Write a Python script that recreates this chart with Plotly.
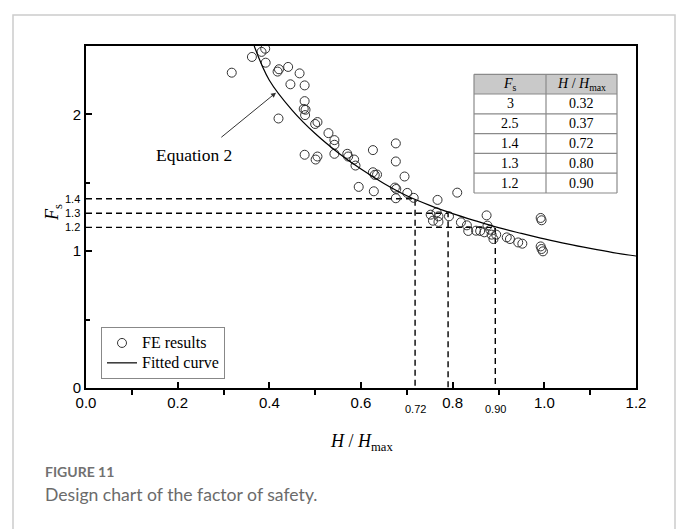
import plotly.graph_objects as go

# ---------------- data ----------------
fe_h = [0.318, 0.362, 0.383, 0.391, 0.392, 0.418, 0.421, 0.441, 0.466, 0.446,
        0.477, 0.477, 0.475, 0.479, 0.478, 0.420, 0.500, 0.505, 0.529, 0.542,
        0.542, 0.542, 0.477, 0.501, 0.505, 0.570, 0.572, 0.585, 0.588, 0.626,
        0.676, 0.676, 0.626, 0.630, 0.635, 0.695, 0.595, 0.628, 0.674, 0.677,
        0.676, 0.701, 0.715, 0.767, 0.810, 0.752, 0.765, 0.769, 0.757, 0.769,
        0.792, 0.818, 0.831, 0.834, 0.851, 0.860, 0.869, 0.874, 0.876, 0.882,
        0.885, 0.889, 0.895, 0.918, 0.925, 0.943, 0.952, 0.992, 0.994, 0.992,
        0.994, 0.997]
fe_fs = [2.305, 2.420, 2.457, 2.480, 2.378, 2.313, 2.330, 2.347, 2.300, 2.220,
         2.212, 2.097, 2.040, 2.034, 1.995, 1.970, 1.930, 1.944, 1.863, 1.812,
         1.778, 1.712, 1.705, 1.670, 1.692, 1.712, 1.692, 1.670, 1.626, 1.739,
         1.788, 1.656, 1.577, 1.558, 1.560, 1.546, 1.470, 1.438, 1.465, 1.455,
         1.387, 1.426, 1.390, 1.375, 1.428, 1.267, 1.284, 1.255, 1.223, 1.214,
         1.255, 1.211, 1.189, 1.148, 1.150, 1.148, 1.138, 1.262, 1.187, 1.157,
         1.121, 1.089, 1.121, 1.101, 1.089, 1.064, 1.055, 1.243, 1.226, 1.035,
         1.016, 0.999]

curve_h = [0.367, 0.40, 0.45, 0.50, 0.55, 0.60, 0.65, 0.70, 0.75, 0.80,
           0.85, 0.90, 0.95, 1.00, 1.05, 1.10, 1.15, 1.20]
curve_fs = [2.50, 2.25, 2.03, 1.86, 1.72, 1.60, 1.495, 1.405, 1.335, 1.275,
            1.222, 1.172, 1.13, 1.09, 1.053, 1.02, 0.99, 0.965]

guide_h = [0.718, 0.790, 0.893]
guide_fs = [1.383, 1.277, 1.174]
guide_h_labels = ["0.72", "", "0.90"]
guide_fs_labels = ["1.4", "1.3", "1.2"]

table_header = ["<i>F</i><sub>s</sub>", "<i>H</i> / <i>H</i><sub>max</sub>"]
table_fs = ["3", "2.5", "1.4", "1.3", "1.2"]
table_h = ["0.32", "0.37", "0.72", "0.80", "0.90"]

x_ticks = [0.0, 0.2, 0.4, 0.6, 0.8, 1.0, 1.2]
y_ticks = [0, 1, 2]

arrow_tip = (0.4146, 2.159)
arrow_tail = (0.292, 1.824)

series_names = ["FE results", "Fitted curve"]

# ---------------- figure ----------------
SERIF = "Liberation Serif"
SANS = "Liberation Sans"
W, H = 677, 529
ML, MR, MT, MB = 86, 41, 46, 141
PW, PH = W - ML - MR, H - MT - MB


def px(xp):
    return (xp - ML) / PW


def py(yp):
    return (H - MB - yp) / PH


def big(name):
    return f'<span style="font-size:16px">{name}</span>'


fig = go.Figure()

# dashed guide lines
for gh, gf in zip(guide_h, guide_fs):
    fig.add_trace(go.Scatter(x=[0, gh, gh], y=[gf, gf, 0], mode="lines",
                             line=dict(color="black", width=1.4, dash="6px,4px"),
                             showlegend=False, hoverinfo="skip"))

fig.add_trace(go.Scatter(x=fe_h, y=fe_fs, mode="markers", name=big(series_names[0]),
                         marker=dict(symbol="circle-open", size=9, color="#333333",
                                     line=dict(width=1, color="#333333"))))
fig.add_trace(go.Scatter(x=curve_h, y=curve_fs, mode="lines", name=big(series_names[1]),
                         line=dict(color="black", width=1.2, shape="spline")))

annotations = []
shapes = []

# ---- table drawn with shapes + annotations ----
T_LEFT, T_MID, T_RIGHT = 474, 546, 617
T_TOP, HEAD_H, ROW_H = 74.3, 19.7, 19.8
col_x = [T_LEFT, T_MID, T_RIGHT]
rows = [table_header] + [[a, b] for a, b in zip(table_fs, table_h)]
y_edges = [T_TOP, T_TOP + HEAD_H] + [T_TOP + HEAD_H + ROW_H * (i + 1) for i in range(len(table_fs))]
T_BOTTOM = y_edges[-1]
shapes.append(dict(type="rect", xref="paper", yref="paper", x0=px(T_LEFT), x1=px(T_RIGHT),
                   y0=py(y_edges[1]), y1=py(T_TOP), fillcolor="#c9c9c9", line=dict(width=0), layer="above"))
shapes.append(dict(type="rect", xref="paper", yref="paper", x0=px(T_LEFT), x1=px(T_RIGHT),
                   y0=py(y_edges[-1]), y1=py(y_edges[1]), fillcolor="white", line=dict(width=0), layer="above"))
for ye in y_edges:
    shapes.append(dict(type="line", xref="paper", yref="paper", x0=px(T_LEFT), x1=px(T_RIGHT),
                       y0=py(ye), y1=py(ye), line=dict(color="#8a8a8a", width=1.2), layer="above"))
for xe in col_x:
    shapes.append(dict(type="line", xref="paper", yref="paper", x0=px(xe), x1=px(xe),
                       y0=py(T_BOTTOM), y1=py(T_TOP), line=dict(color="#8a8a8a", width=1.2), layer="above"))
for r, row in enumerate(rows):
    yc = (y_edges[r] + y_edges[r + 1]) / 2
    for c, val in enumerate(row):
        xc = (col_x[c] + col_x[c + 1]) / 2
        annotations.append(dict(x=px(xc), y=py(yc), xref="paper", yref="paper", text=val,
                                xanchor="center", yanchor="middle", showarrow=False,
                                font=dict(family=SERIF, size=14, color="black")))

# small guide labels
for gh, lab in zip(guide_h, guide_h_labels):
    if lab:
        annotations.append(dict(x=gh, y=0, xref="x", yref="y", text=lab, showarrow=False,
                                xanchor="center", yanchor="middle", yshift=-21,
                                font=dict(family=SANS, size=11, color="black")))
for gf, lab in zip(guide_fs, guide_fs_labels):
    annotations.append(dict(x=0, y=gf, xref="x", yref="y", text=lab, showarrow=False,
                            xanchor="right", yanchor="middle", xshift=-4,
                            font=dict(family=SANS, size=11, color="black")))

annotations += [
    dict(x=arrow_tip[0], y=arrow_tip[1], ax=arrow_tail[0], ay=arrow_tail[1], xref="x", yref="y",
         axref="x", ayref="y", text="", showarrow=True, arrowhead=2, arrowsize=1,
         arrowwidth=1, arrowcolor="#333333", standoff=0),
    dict(x=px(193.5), y=py(155), xref="paper", yref="paper", text="Equation 2", showarrow=False,
         xanchor="center", yanchor="middle", font=dict(family=SERIF, size=17.5, color="black")),
    dict(x=px(53), y=py(213), xref="paper", yref="paper", text="<i>F</i><sub>s</sub>", textangle=-90,
         xanchor="center", yanchor="middle", showarrow=False,
         font=dict(family=SERIF, size=18, color="black")),
    dict(x=0.5, y=py(442), xref="paper", yref="paper", text="<i>H</i> / <i>H</i><sub>max</sub>",
         xanchor="center", yanchor="middle", showarrow=False,
         font=dict(family=SERIF, size=18, color="black")),
    dict(x=px(43), y=py(472), xref="paper", yref="paper", text="<b>FIGURE 11</b>", xanchor="left",
         yanchor="middle", showarrow=False, font=dict(family="Lato", size=14, color="#717171")),
    dict(x=px(43), y=py(494), xref="paper", yref="paper", text="Design chart of the factor of safety.",
         xanchor="left", yanchor="middle", showarrow=False,
         font=dict(family="Lato", size=17.6, color="#6b6b6b")),
]

shapes.append(dict(type="rect", xref="paper", yref="paper", x0=px(13), x1=px(675), y0=py(560), y1=py(15),
                   line=dict(color="#cccccc", width=1.5), fillcolor="rgba(0,0,0,0)", layer="below"))

fig.update_layout(
    width=W, height=H, margin=dict(l=ML, r=MR, t=MT, b=MB, autoexpand=False),
    paper_bgcolor="white", plot_bgcolor="white",
    showlegend=True,
    legend=dict(x=px(101), y=py(327), xanchor="left", yanchor="top",
                bordercolor="#888888", borderwidth=1, bgcolor="white",
                font=dict(family=SERIF, size=13, color="black"),
                tracegroupgap=0, itemwidth=30),
    annotations=annotations, shapes=shapes,
    xaxis=dict(range=[0, 1.2], tickvals=x_ticks, ticktext=[f"{v:.1f}" for v in x_ticks],
               ticks="inside", ticklen=6, tickwidth=1.5, tickcolor="black",
               showline=True, linewidth=2, linecolor="black", mirror=True,
               showgrid=False, zeroline=False,
               tickfont=dict(family=SANS, size=15, color="black"),
               minor=dict(ticks="outside", ticklen=5, tickwidth=1.5, tickcolor="black",
                          tickvals=[0.1, 0.3, 0.5, 0.7, 0.9, 1.1], showgrid=False)),
    yaxis=dict(range=[0, 2.5], tickvals=y_ticks, ticktext=[str(v) for v in y_ticks],
               ticks="inside", ticklen=6, tickwidth=1.5, tickcolor="black",
               showline=True, linewidth=2, linecolor="black", mirror=True,
               showgrid=False, zeroline=False,
               tickfont=dict(family=SANS, size=15, color="black"),
               minor=dict(ticks="inside", ticklen=4, tickwidth=1.5, tickcolor="black",
                          tickvals=[0.5, 1.5], showgrid=False)),
)

fig.write_html("out.html")
